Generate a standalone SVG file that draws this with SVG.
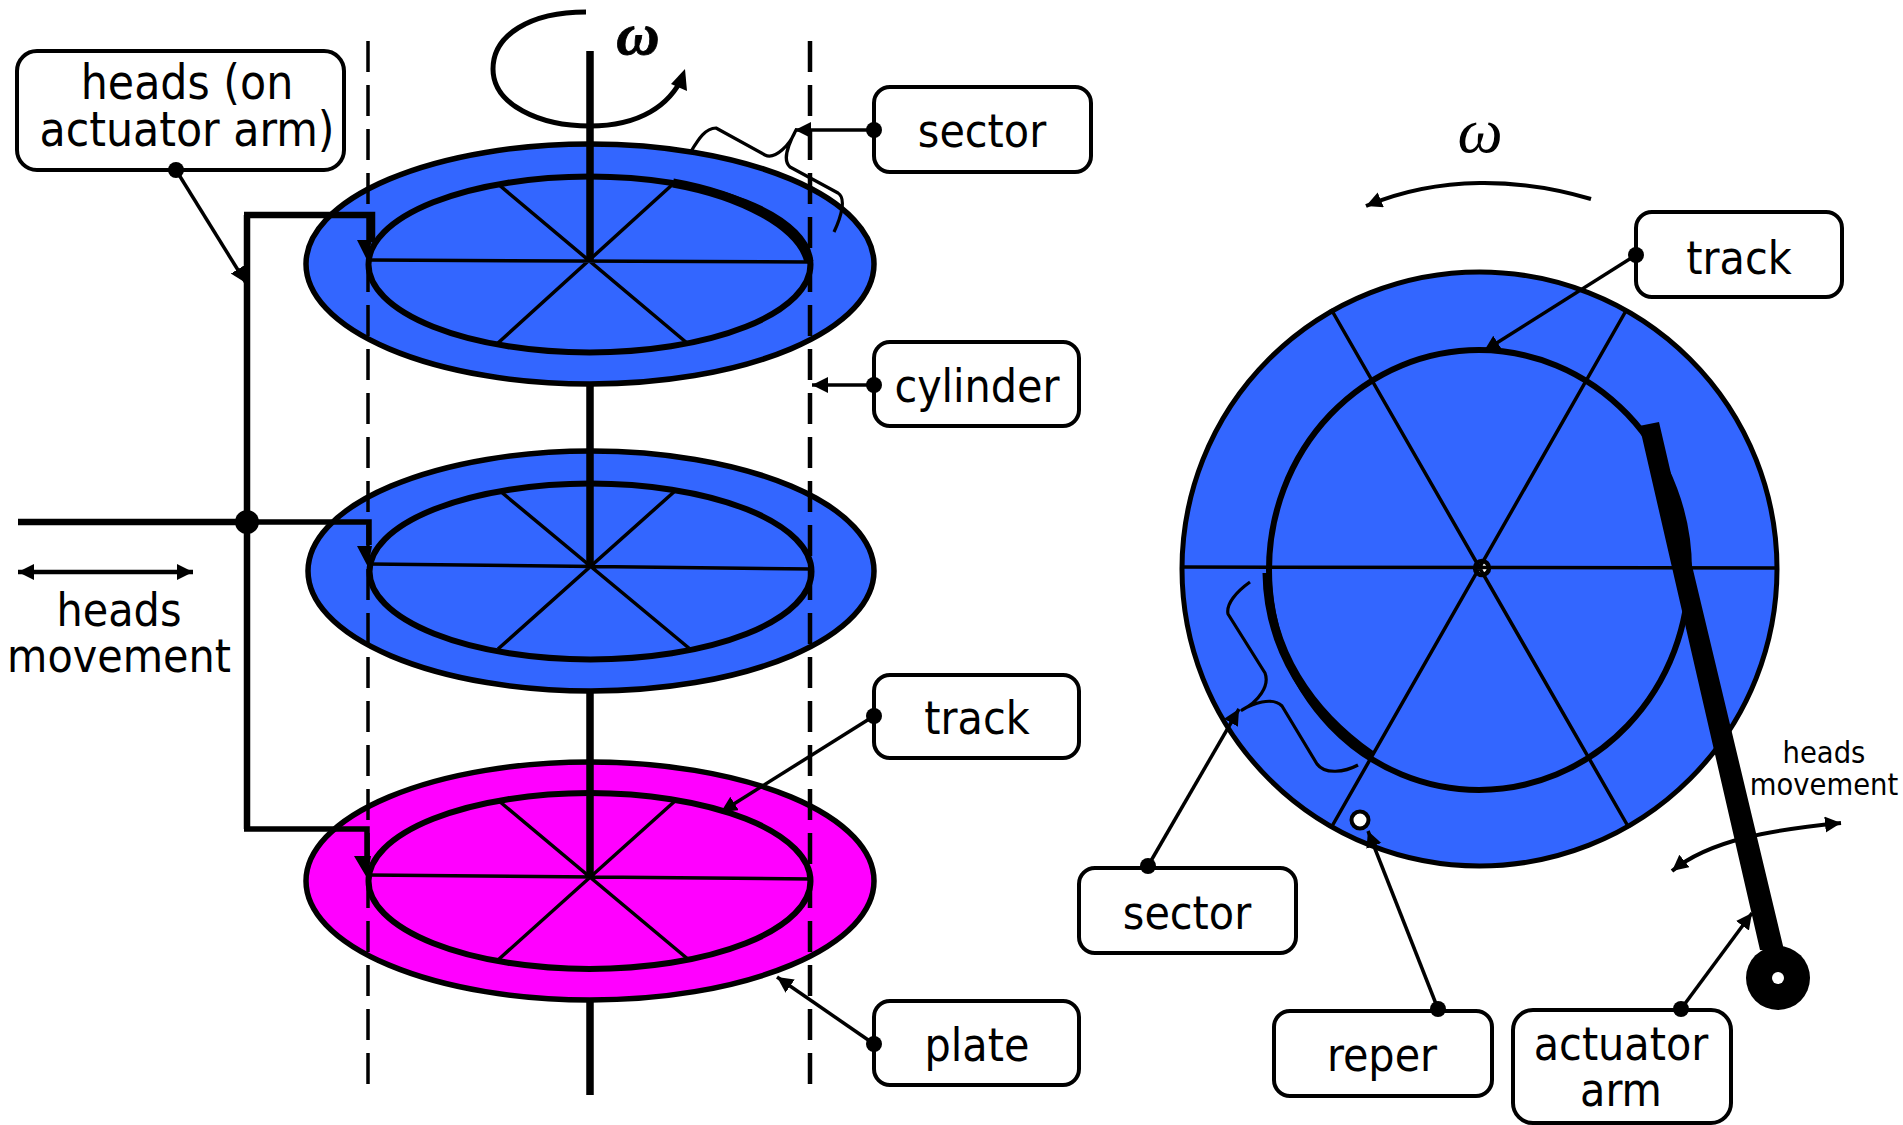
<svg xmlns="http://www.w3.org/2000/svg" width="1903" height="1125" viewBox="0 0 1903 1125">
<style>
text{font-family:"DejaVu Sans Condensed","DejaVu Sans",sans-serif;font-stretch:condensed;font-size:46px;fill:#000;text-anchor:middle}
.box{fill:#fff;stroke:#000;stroke-width:4}
.plate{stroke:#000;stroke-width:5.5}
.blue{fill:#3366ff}.mag{fill:#ff00ff}
.track{fill:none;stroke:#000;stroke-width:6}
.sp{stroke:#000;stroke-width:3.5;fill:none}
.axis{stroke:#000;stroke-width:7.5;fill:none}
.arm{stroke:#000;stroke-width:6.5;fill:none}
.dash{stroke:#000;stroke-width:3.5;stroke-dasharray:31 13;fill:none}
.ar{stroke:#000;stroke-width:4;fill:none;marker-end:url(#a)}
.ld{stroke:#000;stroke-width:3.5;fill:none;marker-start:url(#d);marker-end:url(#a)}
.br{stroke:#000;stroke-width:3.2;fill:none;stroke-linejoin:round}
</style>
<defs>
<marker id="a" markerUnits="userSpaceOnUse" markerWidth="18" markerHeight="18" refX="16" refY="8" orient="auto-start-reverse"><path d="M0 0L16 8L0 16z"/></marker>
<marker id="d" markerUnits="userSpaceOnUse" markerWidth="18" markerHeight="18" refX="9" refY="9"><circle cx="9" cy="9" r="8"/></marker>
</defs>
<g id="plate1">
<ellipse class="plate blue" cx="590" cy="264" rx="284" ry="120"/>
<path class="sp" d="M368 260L809 262M498 184L687 343M673 184L498 343"/>
<ellipse class="track" cx="589.5" cy="264.5" rx="221" ry="88"/>
<path d="M673 183C740 195 800 225 809 262" fill="none" stroke="#000" stroke-width="9"/>
</g>
<g id="plate2">
<ellipse class="plate blue" cx="591" cy="571" rx="283" ry="120"/>
<path class="sp" d="M369 564L811 569M500 491L690 649M675 491L498 649"/>
<ellipse class="track" cx="590.5" cy="571.5" rx="221" ry="88"/>
</g>
<g id="plate3">
<ellipse class="plate mag" cx="590" cy="881" rx="284" ry="119"/>
<path class="sp" d="M368 875L811 879M499 801L689 960M675 801L498 960"/>
<ellipse class="track" cx="589.5" cy="881" rx="221" ry="88"/>
</g>
<g id="axis">
<path class="axis" d="M590 51V260M590 386V567M590 693V876M590 1002V1095"/>
<path d="M586 12C530 12 493 35 493 69C493 105 540 126 590 126C640 126 670 105 683 76" fill="none" stroke="#000" stroke-width="5"/>
<path d="M685 69L687 91L671 84z"/>
<text x="638" y="54" stroke="#000" stroke-width="0.8" style="font-family:'Liberation Serif',serif;font-weight:bold;font-style:italic;font-size:60px;font-stretch:normal">ω</text>
</g>
<g id="disc">
<ellipse class="plate blue" cx="1479.5" cy="569" rx="297.5" ry="297" style="stroke-width:5"/>
<circle cx="1482" cy="568" r="7" fill="#fff" stroke="#000" stroke-width="4.5"/>
<path class="sp" d="M1180 567L1779 568M1331 309L1629 828M1627 309L1331 828"/>
<ellipse class="track" cx="1479" cy="570" rx="210" ry="220"/>
<path d="M1267 573C1268 650 1310 712 1371 755" fill="none" stroke="#000" stroke-width="9"/>
<circle cx="1360" cy="820" r="8.5" fill="#fff" stroke="#000" stroke-width="4"/>
<path class="br" d="M1250 582C1236 592 1226 604 1228 614L1265 673C1270 686 1258 702 1242 710C1252 704 1272 696 1282 706L1317 764C1325 775 1345 772 1358 765"/>
</g>
<g id="actuator">
<path d="M1639 426L1659 422L1672 478L1683 513L1689 553L1784 950L1760 950L1642 437z"/>
<ellipse cx="1778" cy="978" rx="32" ry="32"/>
<circle cx="1778" cy="978" r="6" fill="#fff"/>
</g>
<g id="dashes">
<path class="dash" d="M368 41V1084"/>
<path class="dash" style="stroke-width:4.5" d="M810 41V1084"/>
</g>
<g id="n-heads"><rect class="box" x="17" y="51" width="327" height="119" rx="20"/><text style="font-size:47.5px"><tspan x="187" y="99">heads (on</tspan><tspan x="187" y="146">actuator arm)</tspan></text></g>
<g id="n-sector"><rect class="box" x="874" y="87" width="217" height="85" rx="16"/><text x="982" y="147">sector</text></g>
<g id="n-cylinder"><rect class="box" x="874" y="342" width="205" height="84" rx="16"/><text x="977" y="402">cylinder</text></g>
<g id="n-track"><rect class="box" x="874" y="675" width="205" height="83" rx="16"/><text x="977" y="734">track</text></g>
<g id="n-plate"><rect class="box" x="874" y="1001" width="205" height="84" rx="16"/><text x="977" y="1061">plate</text></g>
<g id="n-track2"><rect class="box" x="1636" y="212" width="206" height="85" rx="16"/><text x="1739" y="274">track</text></g>
<g id="n-sector2"><rect class="box" x="1079" y="868" width="217" height="85" rx="16"/><text x="1187" y="929">sector</text></g>
<g id="n-reper"><rect class="box" x="1274" y="1011" width="218" height="85" rx="16"/><text x="1382" y="1071">reper</text></g>
<g id="n-arm"><rect class="box" x="1513" y="1010" width="218" height="113" rx="20"/><text><tspan x="1621" y="1060">actuator</tspan><tspan x="1621" y="1106">arm</tspan></text></g>
<g id="connectors">
<path class="br" d="M690 153C698 140 705 128 716 128L765 155C775 160 790 145 796 130C788 145 782 160 790 167L838 193C846 198 842 215 834 232"/>
<path class="arm" d="M247 215V829M244 215H372V242M18 522H240"/>
<path class="arm" style="stroke-width:5.5" d="M247 522H369V545M244 829H367V858"/>
<path d="M357 240L372 240L367 260zM357 546L372 546L368 567zM354 856L371 856L367 878z"/>
<circle cx="247" cy="522" r="12"/>
<path d="M18 572H193" stroke="#000" stroke-width="4.5" fill="none" marker-start="url(#a)" marker-end="url(#a)"/>
<path class="ar" d="M1591 199C1520 178 1440 175 1366 206"/>
<path class="ar" style="marker-start:url(#a)" d="M1672 871C1710 840 1770 830 1841 823"/>
<path class="ld" d="M176 170L246 283"/>
<path class="ld" d="M874 130H795"/>
<path class="ld" d="M874 385H812"/>
<path class="ld" d="M874 716L721 812"/>
<path class="ld" d="M874 1044L777 977"/>
<path class="ld" d="M1636 255L1484 351"/>
<path class="ld" d="M1148 866L1239 709"/>
<path class="ld" d="M1438 1009L1368 831"/>
<path class="ld" d="M1681 1009L1752 913"/>
</g>
<g id="labels">
<text><tspan x="119" y="626">heads</tspan><tspan x="119" y="672">movement</tspan></text>
<text style="font-size:30.5px"><tspan x="1824" y="763">heads</tspan><tspan x="1824" y="795">movement</tspan></text>
<text x="1480" y="152" style="font-family:'Liberation Serif',serif;font-style:italic;font-size:64px;font-stretch:normal">ω</text>
</g>
</svg>
